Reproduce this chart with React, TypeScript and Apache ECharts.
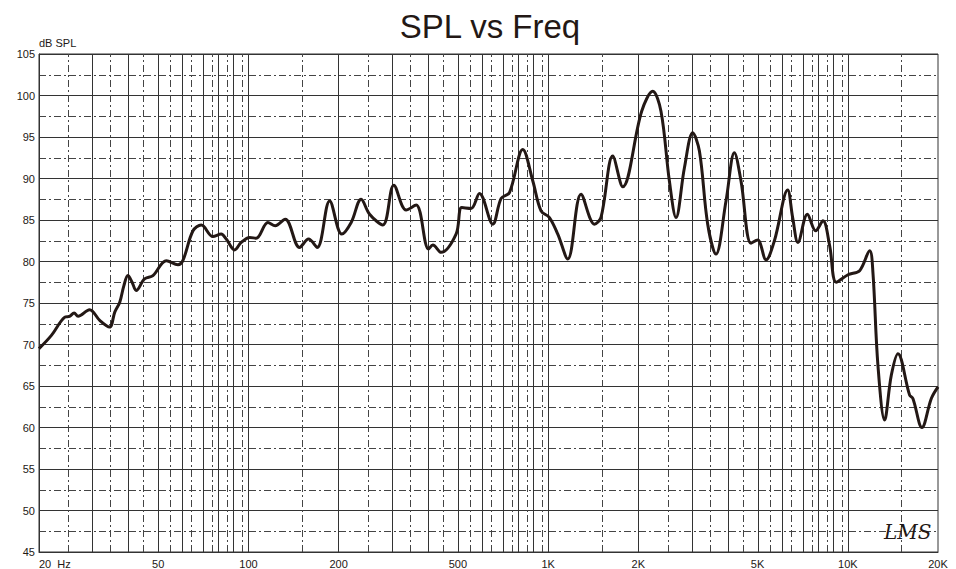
import React, { useEffect, useRef } from 'react';
import * as echarts from 'echarts';

const freqs = [
  20, 22.0, 24.4, 25.3, 26.2, 27.0, 29.5, 31.9, 34.4, 35.8, 37.2, 38.4, 39.6, 40.9, 42.2, 45.0, 48.0,
  53.2, 58.2, 60.4, 65.3, 69.6, 76.1, 81.1, 84.3, 89.9, 94.6, 100.9, 106.1, 116.1, 122.8, 132.6,
  148.1, 158.7, 169.6, 186.6, 204.9, 220.2, 237.7, 253.6, 280.8, 305.6, 335.9, 362.8, 398.9, 412.4,
  439.5, 493, 515, 553, 590, 653.8, 697, 743, 823, 889, 947, 1010, 1077, 1163, 1288, 1428, 1501,
  1643, 1774, 2052, 2234, 2380, 2539, 2672, 2850, 3037, 3198, 3408, 3632, 3923, 4184, 4402, 4753,
  5001, 5335, 5690, 6300, 6546, 6819, 7330, 7814, 8263, 8700, 9160, 10013, 10952, 11830, 12130,
  12606, 13270, 13970, 14700, 16080, 16490, 17680, 19000, 20000,
];
const splDb = [
  69.5, 71.1, 73.3, 73.4, 73.8, 73.4, 74.2, 72.9, 72.1, 73.9, 75.1, 77.1, 78.3, 77.5, 76.5, 77.9, 78.3,
  80.1, 79.6, 80.1, 83.7, 84.4, 83.0, 83.3, 82.7, 81.4, 82.3, 82.9, 82.8, 84.7, 84.3, 85.1,
  81.7, 82.7, 81.7, 87.3, 83.3, 84.7, 87.5, 85.7, 84.4, 89.2, 86.2, 86.8, 81.5, 82.0,
  81.1, 83.3, 86.5, 86.4, 88.2, 84.5, 87.6, 88.3, 93.5, 89.7, 86.1, 85.3, 83.3, 80.3, 88.1, 84.5, 85.3,
  92.7, 89.0, 98.1, 100.5, 98.1, 89.7, 85.3, 91.3, 95.5, 93.3, 84.5, 80.9, 87.3, 93.1, 89.7, 82.2,
  82.6, 80.2, 82.5, 88.6, 85.3, 82.3, 85.7, 83.7, 84.9, 81.9, 77.5, 78.4, 78.9, 81.3, 78.7,
  67.5, 60.9, 66.3, 68.9, 63.9, 63.5, 60.0, 63.5, 64.9,
];

const xLabelFreqs = [20, 50, 100, 200, 500, 1000, 2000, 5000, 10000, 20000];
const xLabels = ['20  Hz', '50', '100', '200', '500', '1K', '2K', '5K', '10K', '20K'];

const solidGridFreqs = [
  30, 40, 50, 60, 70, 80, 90, 100, 200, 300, 400, 500, 600, 700, 800, 900, 1000,
  2000, 3000, 4000, 5000, 6000, 7000, 8000, 9000, 10000,
];
const dashedGridFreqs = [
  25, 35, 45, 55, 65, 75, 85, 95, 150, 250, 350, 450, 550, 650, 750, 850, 950,
  1500, 2500, 3500, 4500, 5500, 6500, 7500, 8500, 9500, 15000,
];

const Y_MIN = 45;
const Y_MAX = 105;
const Y_STEP = 5;

const INK = '#231815';
const GRID = '#333333';
const FONT = '"Liberation Sans", Arial, Helvetica, sans-serif';
const DASH = [7, 3, 2, 3];

export default function App() {
  const ref = useRef<HTMLDivElement>(null);
  useEffect(() => {
    if (!ref.current) return;
    const chart = echarts.init(ref.current, undefined, { renderer: 'svg' });
    const lg = (f: number) => Math.log10(f);
    const option: any = {
      animation: false,
      backgroundColor: '#ffffff',
      title: {
        text: 'SPL vs Freq',
        left: 485,
        textAlign: 'center',
        top: 5,
        textStyle: { fontFamily: FONT, fontSize: 33, fontWeight: 'normal', color: INK },
      },
      grid: {
        left: 39, right: 18, top: 54, bottom: 16,
        show: true, borderColor: GRID, borderWidth: 1, backgroundColor: 'transparent',
      },
      xAxis: {
        type: 'value',
        min: lg(20),
        max: lg(20000),
        axisLine: { show: true, lineStyle: { color: GRID, width: 1 } },
        axisTick: { show: false },
        splitLine: { show: false },
        axisLabel: {
          customValues: xLabelFreqs.map(lg),
          formatter: (v: number) => {
            let best = 0;
            xLabelFreqs.forEach((f, i) => {
              if (Math.abs(lg(f) - v) < Math.abs(lg(xLabelFreqs[best]) - v)) best = i;
            });
            return xLabels[best];
          },
          alignMinLabel: 'left',
          alignMaxLabel: 'center',
          margin: 6,
          fontFamily: FONT,
          fontSize: 11,
          color: INK,
        },
      },
      yAxis: {
        type: 'value',
        min: Y_MIN,
        max: Y_MAX,
        interval: Y_STEP,
        name: 'dB SPL',
        nameLocation: 'end',
        nameGap: 4,
        nameTextStyle: { align: 'left', fontFamily: FONT, fontSize: 11, color: INK, padding: [0, 0, 0, 0] },
        axisLine: { show: true, lineStyle: { color: GRID, width: 1 } },
        axisTick: { show: false },
        axisLabel: { margin: 4, fontFamily: FONT, fontSize: 11, color: INK },
        splitLine: { show: true, lineStyle: { color: GRID, width: 1 } },
        minorTick: { show: false, splitNumber: 2 },
        minorSplitLine: { show: true, lineStyle: { color: '#444444', width: 1, type: DASH } },
      },
      series: [
        {
          type: 'line',
          data: [],
          z: 1,
          silent: true,
          markLine: {
            silent: true,
            symbol: ['none', 'none'],
            label: { show: false },
            animation: false,
            data: [
              ...solidGridFreqs.map((f) => ({ xAxis: lg(f), lineStyle: { color: GRID, width: 1, type: 'solid' } })),
              ...dashedGridFreqs.map((f) => ({ xAxis: lg(f), lineStyle: { color: '#444444', width: 1, type: DASH } })),
            ],
          },
        },
        {
          type: 'line',
          z: 5,
          data: freqs.map((f, i) => [lg(f), splDb[i]]),
          showSymbol: false,
          smooth: 0.35,
          lineStyle: { color: INK, width: 3 },
          emphasis: { disabled: true },
        },
      ],
      graphic: [
        {
          type: 'text',
          left: 884,
          top: 522,
          z: 10,
          style: { text: 'LMS', font: 'italic 20px "DejaVu Serif", serif', fill: INK },
        },
      ],
    };
    chart.setOption(option);
    return () => chart.dispose();
  }, []);
  return (
    <div
      ref={ref}
      style={{ position: 'absolute', left: 0, top: 0, width: 956, height: 569, background: '#fff' }}
    />
  );
}
